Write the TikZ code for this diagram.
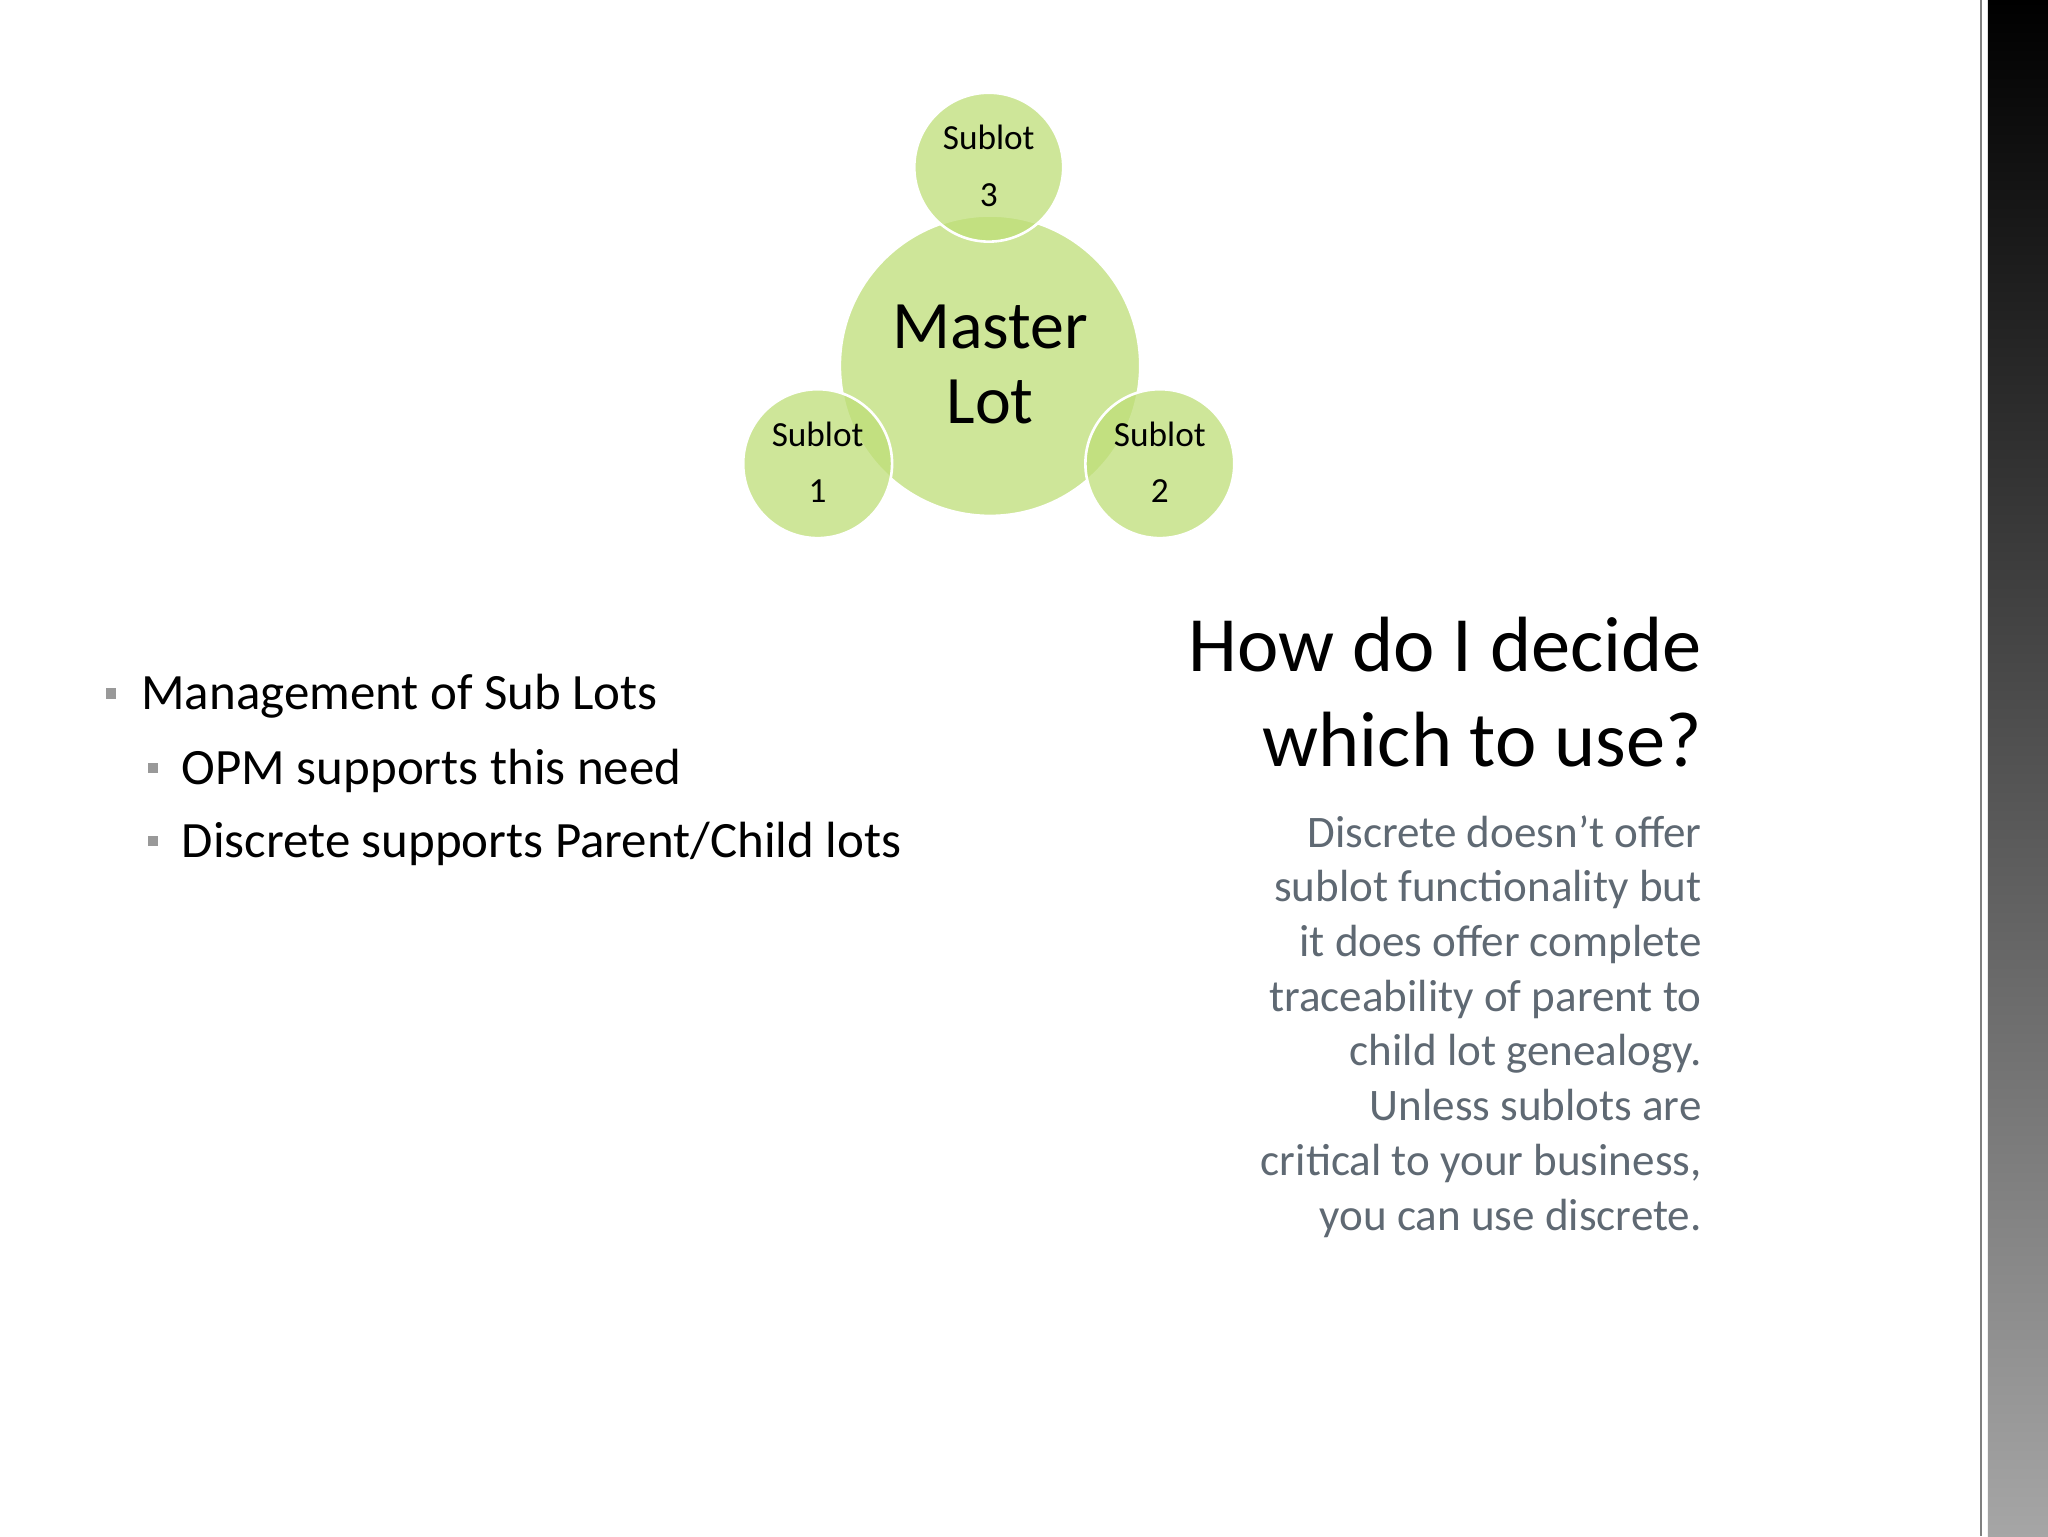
\documentclass[tikz,border=0pt]{standalone}
\usepackage{fontspec}
\setmainfont{Carlito}
\begin{document}
\begin{tikzpicture}[x=1pt,y=-1pt,
  lot/.style={circle,fill=lotgreen,fill opacity=0.75,draw=white,line width=2pt,text opacity=1,align=center},
  bul/.style={fill=gray!80,minimum size=8pt,inner sep=0pt},
  btext/.style={anchor=west,inner sep=0pt,font=\fontsize{39}{46}\selectfont}]
\definecolor{lotgreen}{RGB}{190,222,120}
\definecolor{bodygray}{RGB}{95,105,115}
\useasboundingbox (0,0) rectangle (1568,1176);
\fill[white] (0,0) rectangle (1568,1176);
% right band
\shade[top color=black,bottom color=gray!70] (1522,0) rectangle (1568,1176);
\draw[gray,line width=1.5pt] (1517,0) -- (1517,1176);
% circles
\node[lot,minimum size=230pt] (m) at (758,280) {};
\node[lot,minimum size=114pt] (s3) at (757,128) {};
\node[lot,minimum size=114pt] (s1) at (626,355) {};
\node[lot,minimum size=114pt] (s2) at (888,355) {};
\node[font=\fontsize{52}{58}\selectfont,align=center] (mt) at (758,279) {Master\\Lot};
\node[font=\fontsize{27}{43}\selectfont,align=center] (t3) at (757,127) {Sublot\\3};
\node[font=\fontsize{27}{43}\selectfont,align=center] (t1) at (626,354) {Sublot\\1};
\node[font=\fontsize{27}{43}\selectfont,align=center] (t2) at (888,354) {Sublot\\2};
% bullets
\node[bul] (b1) at (85,531) {};
\node[btext] (l1) at (108,533) {Management of Sub Lots};
\node[bul] (b2) at (117,588) {};
\node[btext] (l2) at (139,590) {OPM supports this need};
\node[bul] (b3) at (117,644) {};
\node[btext] (l3) at (139,646) {Discrete supports Parent/Child lots};
% title
\node[anchor=east,align=right,inner sep=0pt,font=\fontsize{60}{73}\selectfont] (title) at (1303,530) {How do I decide\\which to use?};
\node[anchor=north east,align=right,inner sep=0pt,text=bodygray,font=\fontsize{34.5}{41.9}\selectfont] (body) at (1303,624) {Discrete doesn’t offer\\sublot functionality but\\it does offer complete\\traceability of parent to\\child lot genealogy.\\Unless sublots are\\critical to your business,\\you can use discrete.};
\end{tikzpicture}
\end{document}
